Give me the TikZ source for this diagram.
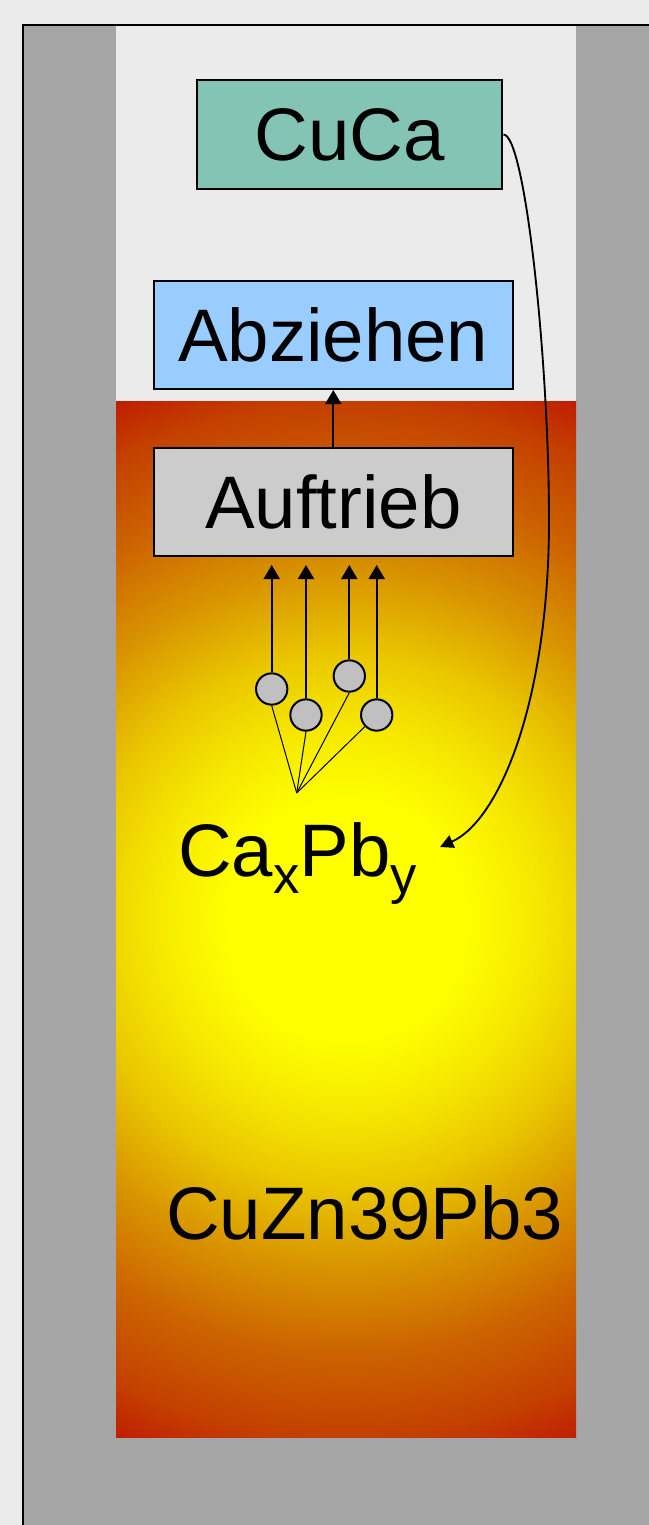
\documentclass[tikz,border=0pt]{standalone}
\usepackage{fontspec}
\setmainfont{Liberation Sans}
\usetikzlibrary{arrows.meta}
\definecolor{bgc}{RGB}{235,235,235}
\definecolor{wallc}{RGB}{166,166,166}
\definecolor{cucac}{RGB}{132,196,180}
\definecolor{abzc}{RGB}{153,204,255}
\definecolor{auftc}{RGB}{204,204,204}
\definecolor{ballc}{RGB}{192,192,192}
\definecolor{m0}{RGB}{255,255,0}
\definecolor{m1}{RGB}{246,232,0}
\definecolor{m2}{RGB}{234,200,0}
\definecolor{m3}{RGB}{216,148,0}
\definecolor{m4}{RGB}{204,100,0}
\definecolor{m5}{RGB}{196,64,0}
\definecolor{m6}{RGB}{190,24,0}
\pgfdeclareradialshading{melt}{\pgfpoint{0bp}{0bp}}{color(0bp)=(m0); color(5bp)=(m0); color(8bp)=(m1); color(11bp)=(m2); color(14.5bp)=(m3); color(18bp)=(m4); color(21.5bp)=(m5); color(24bp)=(m6); color(50bp)=(m6)}
\begin{document}
\begin{tikzpicture}[x=0.75pt,y=-0.75pt,
  bigfont/.style={font=\fontsize{55.8}{60}\selectfont},
  stepbox/.style={draw=black, line width=1.5pt, bigfont, inner sep=0pt, anchor=center},
  lbl/.style={bigfont, inner sep=0pt},
  ball/.style={circle, draw=black, line width=1.5pt, fill=ballc, minimum size=23.5pt, inner sep=0pt},
  lift/.style={-{Triangle[length=10.5pt,width=12pt]}, line width=1.5pt},
  fanline/.style={line width=0.75pt},
  feed/.style={-{Triangle[length=10pt,width=10pt]}, line width=1.4pt}]
\clip (0,0) rectangle (649,1525);
% background and crucible wall
\fill[bgc] (0,0) rectangle (649,1525);
\fill[wallc] (22.5,24.5) rectangle (700,1600);
\fill[bgc] (116,24.5) rectangle (576,401);
% melt with radial gradient
\begin{scope}
  \clip (116,401) rectangle (576,1437);
  \shade[shading=melt] (-254,320) rectangle (946,1520);
\end{scope}
\draw[line width=1.5pt] (22.5,1600) -- (22.5,24.5) -- (700,24.5);
% boxes
\node[stepbox, fill=cucac, minimum width=229pt, minimum height=81.75pt] (cuca) at (349.8,134.5) {CuCa};
\node[stepbox, fill=abzc, minimum width=269.6pt, minimum height=81pt] (abz) at (333.3,335) {Abziehen};
\node[stepbox, fill=auftc, minimum width=269.6pt, minimum height=81pt] (auft) at (333.3,502) {Auftrieb};
\draw[lift] (auft.north) -- (abz.south);
% particles
\node[ball] (c1) at (271.7,689) {};
\node[ball] (c2) at (306,715) {};
\node[ball] (c3) at (349.3,676) {};
\node[ball] (c4) at (376.7,715) {};
\coordinate (a1) at (271.7,565);
\coordinate (a2) at (306,565);
\coordinate (a3) at (349.3,565);
\coordinate (a4) at (376.7,565);
\draw[lift] (c1.north) -- (a1);
\draw[lift] (c2.north) -- (a2);
\draw[lift] (c3.north) -- (a3);
\draw[lift] (c4.north) -- (a4);
\coordinate (F) at (296.7,793);
\draw[fanline] (F) -- (c1.south);
\draw[fanline] (F) -- (c2.south);
\draw[fanline] (F) -- (c3.south);
\draw[fanline] (F) -- (c4);
% labels
\node[lbl, anchor=base west] (caxpby) at (178,876) {Ca\raisebox{-12.75pt}{\fontsize{39.5}{40}\selectfont x}Pb\raisebox{-12.75pt}{\fontsize{39.5}{40}\selectfont y}};
\node[lbl, anchor=base west] (alloy) at (166,1239) {CuZn39Pb3};
% feed curve
\coordinate (mid) at (549,520);
\coordinate (tip) at (440,847);
\draw[feed] (cuca.east) .. controls (525,134) and (549,360) .. (mid) .. controls (549,700) and (500,820) .. (tip);
\end{tikzpicture}
\end{document}
